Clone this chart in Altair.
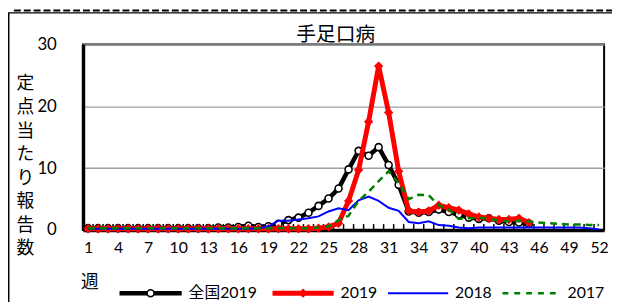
import altair as alt
import pandas as pd

# ---------------- data ----------------
weeks = list(range(1, 53))
national_2019 = [0.3, 0.3, 0.3, 0.3, 0.3, 0.3, 0.3, 0.3, 0.3, 0.3,
                 0.3, 0.3, 0.3, 0.4, 0.4, 0.5, 0.7, 0.5, 0.6, 1.0,
                 1.6, 2.0, 2.8, 3.9, 5.1, 6.7, 9.8, 12.8, 12.0, 13.4,
                 10.5, 7.3, 3.0, 2.8, 2.9, 3.3, 2.9, 2.5, 2.0, 1.8,
                 1.9, 1.5, 1.3, 1.2, 1.0]
local_2019 = [0.2, 0.2, 0.2, 0.2, 0.2, 0.2, 0.2, 0.2, 0.2, 0.2,
              0.2, 0.2, 0.2, 0.2, 0.2, 0.2, 0.2, 0.2, 0.2, 0.2,
              0.2, 0.2, 0.2, 0.3, 0.5, 1.1, 4.7, 9.7, 17.5, 26.5,
              19.0, 9.5, 3.1, 2.9, 3.1, 4.0, 3.6, 3.2, 2.6, 2.1,
              1.9, 1.7, 1.7, 1.9, 1.2]
local_2018 = [0.2, 0.2, 0.2, 0.2, 0.2, 0.2, 0.2, 0.2, 0.2, 0.2,
              0.2, 0.2, 0.2, 0.2, 0.2, 0.2, 0.2, 0.3, 0.6, 1.5,
              1.5, 1.7, 1.9, 2.2, 3.0, 3.5, 3.2, 4.8, 5.4, 4.7,
              3.6, 3.1, 1.3, 1.1, 1.4, 0.8, 0.7, 0.4, 0.3, 0.4,
              0.4, 0.4, 0.4, 0.4, 0.4, 0.4, 0.4, 0.4, 0.4, 0.4,
              0.3, 0.1]
local_2017 = [0.3, 0.3, 0.3, 0.3, 0.3, 0.3, 0.3, 0.3, 0.3, 0.3,
              0.3, 0.3, 0.3, 0.3, 0.3, 0.3, 0.3, 0.3, 0.3, 0.3,
              0.3, 0.3, 0.3, 0.4, 0.6, 1.6, 2.3, 4.7, 6.2, 7.9,
              9.5, 7.6, 5.0, 5.7, 5.6, 4.0, 3.3, 1.8, 1.9, 2.0,
              1.8, 1.5, 1.4, 1.5, 1.4, 1.2, 1.1, 1.0, 0.9, 0.9,
              0.8, 0.8]
x_labels = list(range(1, 53, 3))
y_ticks = [0, 10, 20, 30]
series_names = ["全国2019", "2019", "2018", "2017"]
chart_title = "手足口病"
y_title = ["定", "点", "当", "た", "り", "報", "告", "数"]
x_title = "週"

JP = "Noto Sans CJK JP"
NUM = "Lato, Noto Sans CJK JP"

W, H = 528, 188
PAD_L, PAD_T = 76, 35

def frame(vals):
    return pd.DataFrame({"week": weeks[:len(vals)], "value": vals})

xscale = alt.Scale(domain=[0.5, 52.5], nice=False, zero=False)
yscale = alt.Scale(domain=[0, 30], nice=False)

xaxis = alt.Axis(values=x_labels, labelFontSize=16, labelFont=NUM, labelColor="black",
                 ticks=False, domainColor="black", domainWidth=3.5, grid=False,
                 title=None, labelPadding=10, labelFlush=False, labelOverlap=False)
yaxis = alt.Axis(values=y_ticks, labelFontSize=17, labelFont=NUM, labelColor="black",
                 ticks=False, domainColor="black", domainWidth=3.5,
                 grid=True, gridColor="#a0a0a0", gridWidth=1.5, labelPadding=27,
                 labelOverlap=False,
                 title=y_title, titleAngle=0, titleX=-59, titleY=40,
                 titleBaseline="middle", titleAlign="center", titleFontSize=18,
                 titleLineHeight=23.9, titleFontWeight="normal", titleFont=JP,
                 titleColor="black")
xs = alt.X("week:Q", scale=xscale, axis=xaxis)
ys = alt.Y("value:Q", scale=yscale, axis=yaxis)

# week boundary ticks (inside)
bounds = pd.DataFrame({"week": [w + 0.5 for w in weeks[:-1]]})
ticks = alt.Chart(bounds).mark_rule(color="black", strokeWidth=1.5).encode(
    x=xs, y=alt.value(H - 6), y2=alt.value(H))

black_line = alt.Chart(frame(national_2019)).mark_line(color="black", strokeWidth=4.5).encode(x=xs, y=ys)
black_pts = alt.Chart(frame(national_2019)).mark_point(
    shape="circle", size=50, filled=True, fill="white", stroke="black", strokeWidth=1.6, opacity=1
).encode(x=xs, y=ys)
red_line = alt.Chart(frame(local_2019)).mark_line(color="#ff0000", strokeWidth=5).encode(x=xs, y=ys)
red_pts = alt.Chart(frame(local_2019)).mark_point(
    shape="diamond", size=90, filled=True, color="#ff0000", opacity=1
).encode(x=xs, y=ys)
blue_line = alt.Chart(frame(local_2018)).mark_line(color="#0000ff", strokeWidth=2).encode(x=xs, y=ys)
green_line = alt.Chart(frame(local_2017)).mark_line(
    color="#008000", strokeWidth=2.5, strokeDash=[7, 5]).encode(x=xs, y=ys)

# title and x title
title_txt = alt.Chart(pd.DataFrame({"t": [chart_title]})).mark_text(
    font=JP, fontSize=20, color="black", align="center", baseline="middle"
).encode(x=alt.value(256), y=alt.value(-10), text="t:N")
xtitle_txt = alt.Chart(pd.DataFrame({"t": [x_title]})).mark_text(
    font=JP, fontSize=18, color="black", align="center", baseline="middle"
).encode(x=alt.value(7), y=alt.value(242), text="t:N")

# manual legend (Excel style)
LY = 252
leg = []
leg_items = [
    (series_names[0], 37, 100, "black", 4.5, None),
    (series_names[1], 192, 254, "#ff0000", 5, None),
    (series_names[2], 309, 370, "#0000ff", 2, None),
    (series_names[3], 425, 484, "#008000", 2.5, [6, 6]),
]
for name, x1, x2, col, sw, dash in leg_items:
    kw = dict(color=col, strokeWidth=sw)
    if dash:
        kw["strokeDash"] = dash
    leg.append(alt.Chart(pd.DataFrame({"n": [name]})).mark_rule(**kw).encode(
        x=alt.value(x1), x2=alt.value(x2), y=alt.value(LY)))
    leg.append(alt.Chart(pd.DataFrame({"n": [name]})).mark_text(
        font=NUM, fontSize=16, color="black", align="left", baseline="middle"
    ).encode(x=alt.value(x2 + 7), y=alt.value(LY), text="n:N"))
leg.append(alt.Chart(pd.DataFrame({"n": [series_names[0]]})).mark_point(
    shape="circle", size=50, filled=True, fill="white", stroke="black", strokeWidth=1.6, opacity=1
).encode(x=alt.value(68.5), y=alt.value(LY)))
leg.append(alt.Chart(pd.DataFrame({"n": [series_names[1]]})).mark_point(
    shape="diamond", size=90, filled=True, color="#ff0000", opacity=1
).encode(x=alt.value(223), y=alt.value(LY)))

# outer frame pieces (screenshot border)
outer = [
    alt.Chart(pd.DataFrame({"a": [0]})).mark_rule(color="black", strokeWidth=2).encode(
        x=alt.value(-75.5), y=alt.value(-32), y2=alt.value(H + 80)),
    alt.Chart(pd.DataFrame({"a": [0]})).mark_rule(color="black", strokeWidth=1.5).encode(
        x=alt.value(-76), x2=alt.value(W + 20), y=alt.value(-32)),
    alt.Chart(pd.DataFrame({"a": [0]})).mark_rule(color="black", strokeWidth=2, strokeDash=[7, 3]).encode(
        x=alt.value(-70), x2=alt.value(W + 20), y=alt.value(-34.5)),
]

chart = alt.layer(
    black_line, ticks, black_pts, red_line, red_pts, blue_line, green_line,
    title_txt, xtitle_txt, *leg, *outer
).properties(
    width=W, height=H,
    autosize=alt.AutoSizeParams(type="none"),
    padding={"left": PAD_L, "top": PAD_T, "right": 8, "bottom": 71},
).configure_view(stroke="black", strokeWidth=2
).configure_axis(labelOverlap=False)

chart.save("out.html", embed_options={"renderer": "svg", "actions": False})
